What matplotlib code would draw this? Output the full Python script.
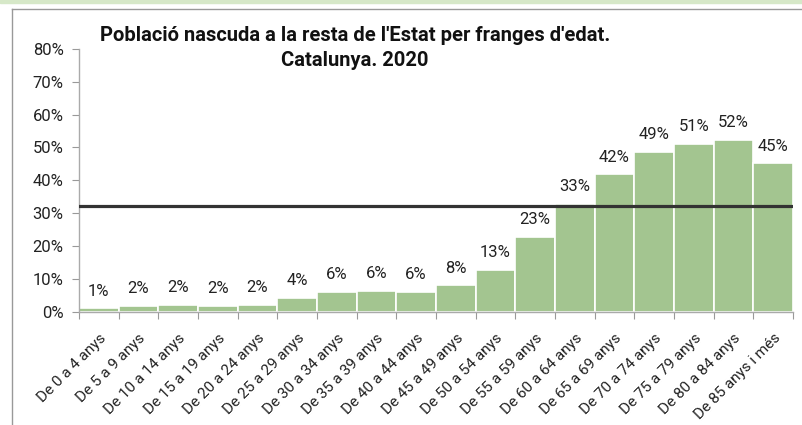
import numpy as np
import matplotlib
matplotlib.use("Agg")
import matplotlib.pyplot as plt
from matplotlib.patches import Rectangle
from matplotlib.lines import Line2D

plt.rcParams['font.family'] = ['Roboto', 'DejaVu Sans']

# franges d'edat i percentatge de població nascuda a la resta de l'Estat
franges = ["De 0 a 4 anys", "De 5 a 9 anys", "De 10 a 14 anys", "De 15 a 19 anys",
           "De 20 a 24 anys", "De 25 a 29 anys", "De 30 a 34 anys", "De 35 a 39 anys",
           "De 40 a 44 anys", "De 45 a 49 anys", "De 50 a 54 anys", "De 55 a 59 anys",
           "De 60 a 64 anys", "De 65 a 69 anys", "De 70 a 74 anys", "De 75 a 79 anys",
           "De 80 a 84 anys", "De 85 anys i més"]
percentatges = [1.0, 1.8, 2.1, 1.7, 2.0, 4.2, 5.9, 6.2, 5.9, 8.0, 12.8, 22.8,
                32.9, 41.8, 48.6, 51.0, 52.2, 45.1]
total_catalunya = 32.1
yticks = [0, 10, 20, 30, 40, 50, 60, 70, 80]

fig = plt.figure(figsize=(8.03, 4.25), dpi=100)
ax = fig.add_axes([0.0984, 0.267, 0.889, 0.618])

x = np.arange(len(franges))
ax.bar(x, percentatges, width=1.0, color='#a3c590', edgecolor='white', linewidth=1.2, zorder=2)
for xi, v in zip(x, percentatges):
    ax.annotate(f"{round(v):d}%", (xi, v), xytext=(0, 7), textcoords='offset points',
                ha='center', va='bottom', fontsize=12, color='#222222')

ax.axhline(total_catalunya, color='#333333', linewidth=2.3, zorder=3)

ax.set_xlim(-0.5, len(franges) - 0.5)
ax.set_ylim(0, 80)
ax.set_yticks(yticks)
ax.set_yticklabels([f"{t}%" for t in yticks], fontsize=12, color='#222222')

# ticks at category boundaries, labels at centres
ax.set_xticks(np.arange(-0.5, len(franges)), minor=False)
ax.set_xticklabels([])
ax.set_xticks(x, minor=True)
ax.set_xticklabels(franges, minor=True, rotation=45, ha='right', va='top',
                   rotation_mode='anchor', fontsize=11, color='#222222')
ax.tick_params(axis='x', which='minor', length=0, pad=14)
ax.tick_params(axis='x', which='major', length=5, color='#999999', direction='out')
ax.tick_params(axis='y', length=5, color='#999999', direction='out', pad=6)

for s in ['top', 'right']:
    ax.spines[s].set_visible(False)
for s in ['left', 'bottom']:
    ax.spines[s].set_color('#aaaaaa')
    ax.spines[s].set_linewidth(1.0)

fig.text(0.442, 0.917, "Població nascuda a la resta de l'Estat per franges d'edat.",
         ha='center', va='center', fontsize=14.5, fontweight='bold', color='#111111')
fig.text(0.442, 0.858, "Catalunya. 2020",
         ha='center', va='center', fontsize=14.5, fontweight='bold', color='#111111')

# marc del gràfic
fig.patches.append(Rectangle((0, 1 - 3 / 425), 1, 3 / 425, transform=fig.transFigure,
                             color='#d6e8c8', zorder=0))
fig.lines.append(Line2D([12 / 803, 1], [1 - 9 / 425, 1 - 9 / 425], transform=fig.transFigure,
                        color='#999999', linewidth=1))
fig.lines.append(Line2D([12 / 803, 12 / 803], [0, 1 - 9 / 425], transform=fig.transFigure,
                        color='#999999', linewidth=1))

fig.savefig("out.png", dpi=100)
